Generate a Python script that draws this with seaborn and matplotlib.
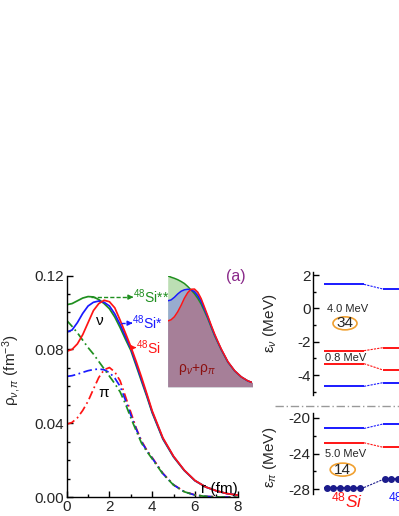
import numpy as np
import pandas as pd
import matplotlib
matplotlib.use("Agg")
import matplotlib.pyplot as plt
import seaborn as sns
from matplotlib.patches import Ellipse
from matplotlib.lines import Line2D

# ---------------- data ----------------
r = [0, 0.25, 0.5, 0.75, 1.0, 1.25, 1.5, 1.75, 2.0, 2.25, 2.5, 2.75, 3.0, 3.25,
     3.5, 3.75, 4.0, 4.5, 5.0, 5.5, 6.0, 6.5, 7.0, 7.5, 8.0]

# neutron densities (solid)
rho_n_si48 = [0.0790, 0.0800, 0.0830, 0.0880, 0.0945, 0.1010, 0.1048, 0.1066, 0.1058,
              0.1025, 0.0958, 0.0888, 0.0815, 0.0735, 0.0650, 0.0560, 0.0468, 0.0322,
              0.0222, 0.0147, 0.0091, 0.0056, 0.0035, 0.0020, 0.0012]
rho_n_si48s = [0.0894, 0.0905, 0.0945, 0.0995, 0.1035, 0.1055, 0.1062, 0.1055, 0.1035,
               0.0992, 0.0935, 0.0870, 0.0805, 0.0722, 0.0637, 0.0552, 0.0462, 0.0318,
               0.0220, 0.0146, 0.0090, 0.0056, 0.0035, 0.0020, 0.0012]
rho_n_si48ss = [0.1042, 0.1048, 0.1063, 0.1078, 0.1086, 0.1084, 0.1070, 0.1048, 0.1020,
                0.0975, 0.0918, 0.0855, 0.0795, 0.0712, 0.0628, 0.0545, 0.0457, 0.0315,
                0.0218, 0.0145, 0.0090, 0.0056, 0.0035, 0.0020, 0.0012]
# proton densities (dash-dot)
rho_p_si48 = [0.0395, 0.0405, 0.0430, 0.0470, 0.0520, 0.0585, 0.0648, 0.0690, 0.0702,
              0.0678, 0.0630, 0.0545, 0.0460, 0.0375, 0.0305, 0.0255, 0.0215, 0.0130,
              0.0068, 0.0031, 0.0013, 0.0005, 0.0002, 0.0001, 0.0]
rho_p_si48s = [0.0654, 0.0658, 0.0666, 0.0676, 0.0685, 0.0691, 0.0694, 0.0690, 0.0675,
               0.0645, 0.0600, 0.0525, 0.0445, 0.0370, 0.0300, 0.0252, 0.0212, 0.0128,
               0.0067, 0.0030, 0.0012, 0.0005, 0.0002, 0.0001, 0.0]
rho_p_si48ss = [0.0957, 0.0925, 0.0890, 0.0850, 0.0810, 0.0775, 0.0735, 0.0695, 0.0655,
                0.0615, 0.0570, 0.0505, 0.0430, 0.0360, 0.0293, 0.0248, 0.0208, 0.0126,
                0.0066, 0.0030, 0.0012, 0.0005, 0.0002, 0.0001, 0.0]

# single-particle levels (MeV)
nu_levels_si48 = [1.44, -2.54, -3.32, -4.68]
nu_levels_si48s = [1.16, -2.36, -3.70, -4.46]
nu_level_kinds = ["b", "r", "r", "b"]
pi_levels_si48 = [-21.2, -22.8, -27.8]
pi_levels_si48s = [-20.7, -23.3, -26.9]
pi_level_kinds = ["b", "r", "n"]

gap_texts_nu = ["4.0 MeV", "0.8 MeV"]
gap_texts_pi = ["5.0 MeV"]
magic_nu = "34"
magic_pi = "14"

# ---------------- style ----------------
sns.set_theme(style="white")
plt.rcParams["font.family"] = ["Liberation Sans", "DejaVu Sans"]
plt.rcParams["mathtext.fontset"] = "custom"
plt.rcParams["mathtext.rm"] = "Liberation Sans"
plt.rcParams["mathtext.it"] = "Liberation Sans:italic"
plt.rcParams["mathtext.bf"] = "Liberation Sans:bold"
plt.rcParams["axes.unicode_minus"] = False

RED = "#ff1414"
BLUE = "#1a1aff"
GREEN = "#1f8f1f"
NAVY = "#1c1c8c"
ORANGE = "#f0a030"
cmap = {"b": BLUE, "r": RED, "n": NAVY}
TICK_FS = 11

W, H = 399.0, 516.0
fig = plt.figure(figsize=(W / 100, H / 100), dpi=100)


def fx(px):
    return px / W


def fy(py):
    return 1 - py / H


# ---------------- main density panel ----------------
ax = fig.add_axes([fx(66.7), fy(497.3), (237.7 - 66.7) / W, (497.3 - 275.5) / H])
df = pd.DataFrame({"r": r,
                   "n48": rho_n_si48, "n48s": rho_n_si48s, "n48ss": rho_n_si48ss,
                   "p48": rho_p_si48, "p48s": rho_p_si48s, "p48ss": rho_p_si48ss})
dashdot = (0, (5, 2, 1, 2))
for col, c, ls in [("p48", RED, dashdot), ("p48s", BLUE, dashdot), ("p48ss", GREEN, dashdot),
                   ("n48ss", GREEN, "-"), ("n48s", BLUE, "-"), ("n48", RED, "-")]:
    sns.lineplot(data=df, x="r", y=col, color=c, linestyle=ls, linewidth=1.25, ax=ax)

ax.set_xlim(0, 8)
ax.set_ylim(0, 0.12)
ax.set_xlabel("")
ax.set_ylabel("")
ax.set_xticks([0, 2, 4, 6, 8])
ax.set_xticks([1, 3, 5, 7], minor=True)
ax.set_yticks([0, 0.04, 0.08, 0.12])
ax.set_yticklabels(["0.00", "0.04", "0.08", "0.12"])
ax.set_yticks(np.arange(0.01, 0.12, 0.01), minor=True)
for s in ["top", "right"]:
    ax.spines[s].set_visible(False)
for s in ["left", "bottom"]:
    ax.spines[s].set_color("black")
    ax.spines[s].set_linewidth(1.0)
ax.tick_params(which="both", direction="in", color="black", labelsize=TICK_FS, pad=2)
ax.tick_params(which="major", length=4, width=1)
ax.tick_params(which="minor", length=2.5, width=1)
ax.tick_params(axis="x", which="both", bottom=True)
ax.tick_params(axis="y", which="both", left=True)

# labels inside
ax.text(1.56, 0.0953, "ν", fontsize=11, ha="center", va="center", color="black")
ax.text(1.72, 0.0565, "π", fontsize=11, ha="center", va="center", color="black")
ax.text(8.0, 0.0045, "r (fm)", fontsize=11, ha="right", va="center", color="black")

# arrows + isotope labels
for x0, x1, y, c, lab in [(1.15, 3.12, 0.1083, GREEN, r"$^{48}$Si**"),
                          (2.55, 3.08, 0.0942, BLUE, r"$^{48}$Si*"),
                          (2.95, 3.25, 0.0810, RED, r"$^{48}$Si")]:
    ax.plot([x0, x1 - 0.15], [y, y], color=c, ls=(0, (3, 1.5)), lw=1.0)
    ax.annotate("", xy=(x1, y), xytext=(x1 - 0.2, y),
                arrowprops=dict(arrowstyle="-|>", color=c, lw=1.0, mutation_scale=7))
    ax.text(x1 - 0.02, y, lab, color=c, fontsize=10, ha="left", va="center")

fig.text(fx(12), fy(370), r"ρ$_{ν,π}$ (fm$^{-3}$)", rotation=90, ha="center",
         va="center", fontsize=11)

# ---------------- inset: total density ----------------
axi = fig.add_axes([fx(167.7), fy(386.7), (252 - 167.7) / W, (386.7 - 275.7) / H])
tot = pd.DataFrame({"r": r,
                    "t48ss": np.array(rho_n_si48ss) + np.array(rho_p_si48ss),
                    "t48s": np.array(rho_n_si48s) + np.array(rho_p_si48s),
                    "t48": np.array(rho_n_si48) + np.array(rho_p_si48)})
axi.fill_between(tot["r"], tot["t48ss"], color="#bcdeb4", lw=0)
axi.fill_between(tot["r"], tot["t48s"], color="#98accf", lw=0)
axi.fill_between(tot["r"], tot["t48"], color="#a67f98", lw=0)
for col, c in [("t48ss", GREEN), ("t48s", BLUE), ("t48", RED)]:
    sns.lineplot(data=tot, x="r", y=col, color=c, linewidth=1.1, ax=axi)
axi.set_xlim(0, 6.3)
axi.set_ylim(0, 0.2)
axi.axis("off")
axi.text(0.8, 0.018, r"ρ$_ν$+ρ$_π$", color="#8b1010", fontsize=10, ha="left", va="bottom")

fig.text(fx(236), fy(277), "(a)", color="#8a2a8a", fontsize=11.5, ha="center", va="center")

# ---------------- right: neutron levels ----------------
xl0, xl1, xr0, xr1 = 0.535, 2.535, 3.485, 5.2
axu = fig.add_axes([fx(313.3), fy(395), 100 / W, (395 - 271.7) / H])
for e0, e1, k in zip(nu_levels_si48, nu_levels_si48s, nu_level_kinds):
    c = cmap[k]
    axu.plot([xl0, xl1], [e0, e0], color=c, lw=1.4, solid_capstyle="butt")
    axu.plot([xl1, xr0], [e0, e1], color=c, lw=0.8, ls=(0, (2, 1)))
    axu.plot([xr0, xr1], [e1, e1], color=c, lw=1.4, solid_capstyle="butt")
axu.set_xlim(0, 5)
axu.set_ylim(-5.2, 2.2)
axu.set_yticks([-4, -2, 0, 2])
axu.set_yticks([-5, -3, -1, 1], minor=True)
axu.set_xticks([])
for s in ["top", "right", "bottom"]:
    axu.spines[s].set_visible(False)
axu.spines["left"].set_color("black")
axu.spines["left"].set_linewidth(1.0)
axu.tick_params(axis="y", which="both", direction="in", left=True, color="black",
                labelsize=TICK_FS, pad=2)
axu.tick_params(axis="y", which="major", length=4, width=1)
axu.tick_params(axis="y", which="minor", length=2.5, width=1)
axu.patch.set_alpha(0)
axu.text(0.69, -0.04, gap_texts_nu[0], fontsize=8, ha="left", va="center")
axu.text(0.58, -2.96, gap_texts_nu[1], fontsize=8, ha="left", va="center")
axu.add_patch(Ellipse((1.585, -0.9), 1.2, 0.78, fill=False, ec=ORANGE, lw=1.2))
axu.text(1.585, -0.9, magic_nu, fontsize=11, ha="center", va="center")
fig.text(fx(270), fy(323), r"ε$_ν$ (MeV)", rotation=90, ha="center", va="center",
         fontsize=11)

# ---------------- right: proton levels ----------------
axl = fig.add_axes([fx(313.3), fy(493.8), 100 / W, (493.8 - 412.8) / H])
for e0, e1, k in zip(pi_levels_si48, pi_levels_si48s, pi_level_kinds):
    c = cmap[k]
    axl.plot([xl0, xl1], [e0, e0], color=c, lw=1.4, solid_capstyle="butt")
    axl.plot([xl1, xr0], [e0, e1], color=c, lw=0.8, ls=(0, (2, 1)))
    axl.plot([xr0, xr1], [e1, e1], color=c, lw=1.4, solid_capstyle="butt")
    if k == "n":
        axl.plot(np.linspace(0.67, 2.335, 6), [e0] * 6, ls="none", marker="o", ms=4.0,
                 color=c)
        axl.plot(np.linspace(3.58, 5.2, 6), [e1] * 6, ls="none", marker="o", ms=4.0,
                 color=c)
axl.set_xlim(0, 5)
axl.set_ylim(-28.5, -19.45)
axl.set_yticks([-28, -24, -20])
axl.set_yticks([-26, -22], minor=True)
axl.set_xticks([])
for s in ["top", "right", "bottom"]:
    axl.spines[s].set_visible(False)
axl.spines["left"].set_color("black")
axl.spines["left"].set_linewidth(1.0)
axl.tick_params(axis="y", which="both", direction="in", left=True, color="black",
                labelsize=TICK_FS, pad=2)
axl.tick_params(axis="y", which="major", length=4, width=1)
axl.tick_params(axis="y", which="minor", length=2.5, width=1)
axl.patch.set_alpha(0)
axl.text(0.58, -24.1, gap_texts_pi[0], fontsize=8, ha="left", va="center")
axl.add_patch(Ellipse((1.47, -25.8), 1.25, 1.45, fill=False, ec=ORANGE, lw=1.2))
axl.text(1.47, -25.8, magic_pi, fontsize=11, ha="center", va="center")
fig.text(fx(270), fy(457), r"ε$_π$ (MeV)", rotation=90, ha="center", va="center",
         fontsize=11)

# isotope labels under level schemes
fig.text(fx(331), fy(507), r"$^{48}$Si", color=RED, fontsize=12.5, style="italic",
         ha="left", va="baseline")
fig.text(fx(388), fy(507), r"$^{48}$Si*", color=BLUE, fontsize=12.5, style="italic",
         ha="left", va="baseline")

# separator
fig.add_artist(Line2D([fx(275), 1.0], [fy(405.7), fy(405.7)], transform=fig.transFigure,
                      color="#999999", lw=1.0, ls=(0, (6, 2, 1, 2))))

fig.savefig("out.png", dpi=100)
